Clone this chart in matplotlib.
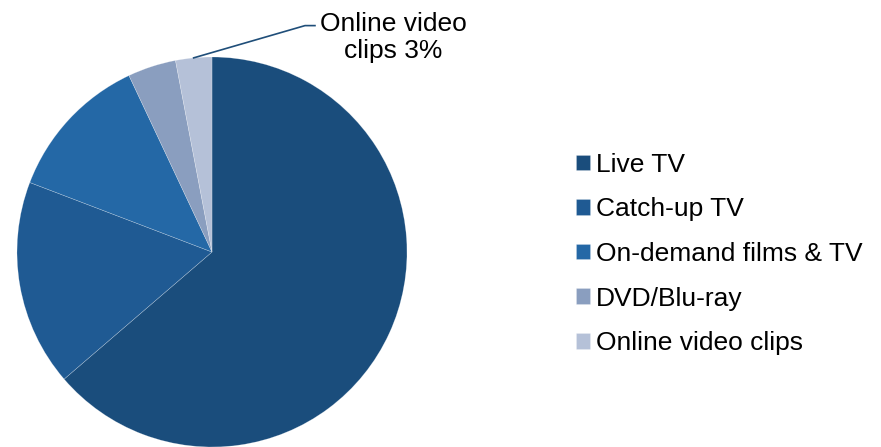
import numpy as np
import matplotlib
matplotlib.use('Agg')
import matplotlib.pyplot as plt

plt.rcParams['font.family'] = ['Liberation Sans', 'DejaVu Sans']

categories = ['Live TV', 'Catch-up TV', 'On-demand films & TV', 'DVD/Blu-ray', 'Online video clips']
shares = [63.7, 17.1, 12.2, 4.0, 3.0]
colours = ['#1a4d7c', '#1f5a93', '#2468a6', '#8a9ebf', '#b5c1d8']

fig = plt.figure(figsize=(8.81, 4.47), dpi=100)
ax = fig.add_axes([17 / 881, 0, 390 / 881, 390 / 447])

wedges, _ = ax.pie(shares, colors=colours, startangle=90, counterclock=False,
                   radius=1, wedgeprops=dict(edgecolor=(1, 1, 1, 0.35), linewidth=0.4))
ax.set_xlim(-1, 1)
ax.set_ylim(-1, 1)
ax.set_aspect('equal')
ax.axis('off')

# leader line for the smallest slice, from the middle of its arc
last = wedges[-1]
mid = np.deg2rad((last.theta1 + last.theta2) / 2)
x0, y0 = np.cos(mid), np.sin(mid)
ax.plot([x0, 0.477, 0.528], [y0, 1.161, 1.161], color='#1f4e79', lw=1.2, clip_on=False)
ax.text(0.931, 1.100, '%s\n%s %d%%' % ('Online video', 'clips', round(shares[-1])),
        ha='center', va='center', fontsize=19, linespacing=1.2, clip_on=False)

fig.legend(wedges, categories, loc='center left', bbox_to_anchor=(576 / 881, 1 - 254 / 447),
           frameon=False, fontsize=19, handlelength=0.53, handleheight=0.53,
           handletextpad=0.22, labelspacing=0.78, borderpad=0, borderaxespad=0)

fig.savefig('out.png', dpi=100)
